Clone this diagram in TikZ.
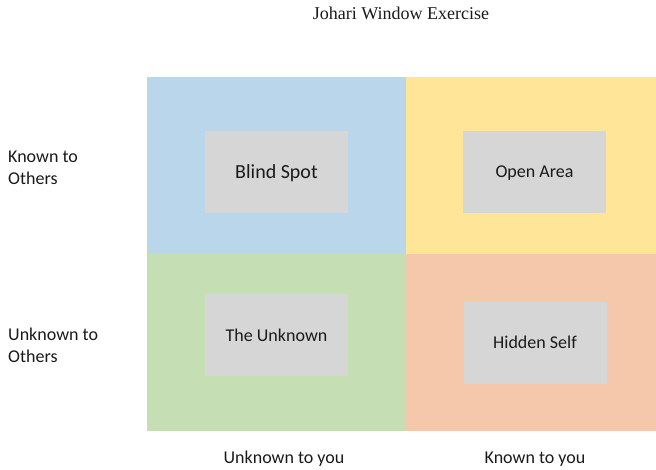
\documentclass[tikz,border=0pt]{standalone}
\usepackage{fontspec}
\setmainfont{Carlito}
\newfontfamily\titlefont{Liberation Serif}
\usepackage{tikz}

\definecolor{blindblue}{HTML}{B9D6EA}
\definecolor{openyellow}{HTML}{FFE598}
\definecolor{unknowngreen}{HTML}{C5DEB4}
\definecolor{hiddenorange}{HTML}{F5C8AB}
\definecolor{boxgray}{HTML}{D6D6D6}
\definecolor{inkblack}{HTML}{1A1A1A}

\tikzset{
  pane/.style={rectangle, inner sep=0pt, minimum width=#1, minimum height=177pt},
  areabox/.style={rectangle, fill=boxgray, inner sep=0pt, minimum width=143pt, minimum height=82pt,
    text depth=0pt, text=inkblack, font=\fontsize{18}{22}\selectfont},
  sidelabel/.style={anchor=west, align=left, inner sep=0pt, text=inkblack, font=\fontsize{18}{22}\selectfont},
  axislabel/.style={inner sep=0pt, text=inkblack, font=\fontsize{18}{22}\selectfont}
}

\begin{document}
\begin{tikzpicture}[x=1pt,y=-1pt]
\useasboundingbox (0,0) rectangle (656,469);

\path (276.5,165.5) node[pane=259pt, fill=blindblue] (blindq) {}
		(531,165.5) node[pane=250pt, fill=openyellow] (openq) {}
		(276.5,342.5) node[pane=259pt, fill=unknowngreen] (unknownq) {}
		(531,342.5) node[pane=250pt, fill=hiddenorange] (hiddenq) {}
		;

\path (276.5,172) node[areabox] (blind) {\fontsize{20}{24}\selectfont Blind Spot}
		(534.5,172) node[areabox] (open) {Open Area}
		(276.5,335) node[areabox] (unknown) {The Unknown}
		(535,342.5) node[areabox] (hidden) {Hidden Self}
		;

\path (401,13) node[axislabel, font=\titlefont\fontsize{18}{22}\selectfont] (title) {Johari Window Exercise}
		(8,167.5) node[sidelabel] (knownothers) {Known to\\Others}
		(8,345.5) node[sidelabel] (unknownothers) {Unknown to\\Others}
		(284,459) node[axislabel] (unknownyou) {Unknown to you}
		(535,459) node[axislabel] (knownyou) {Known to you}
		;
\end{tikzpicture}
\end{document}
